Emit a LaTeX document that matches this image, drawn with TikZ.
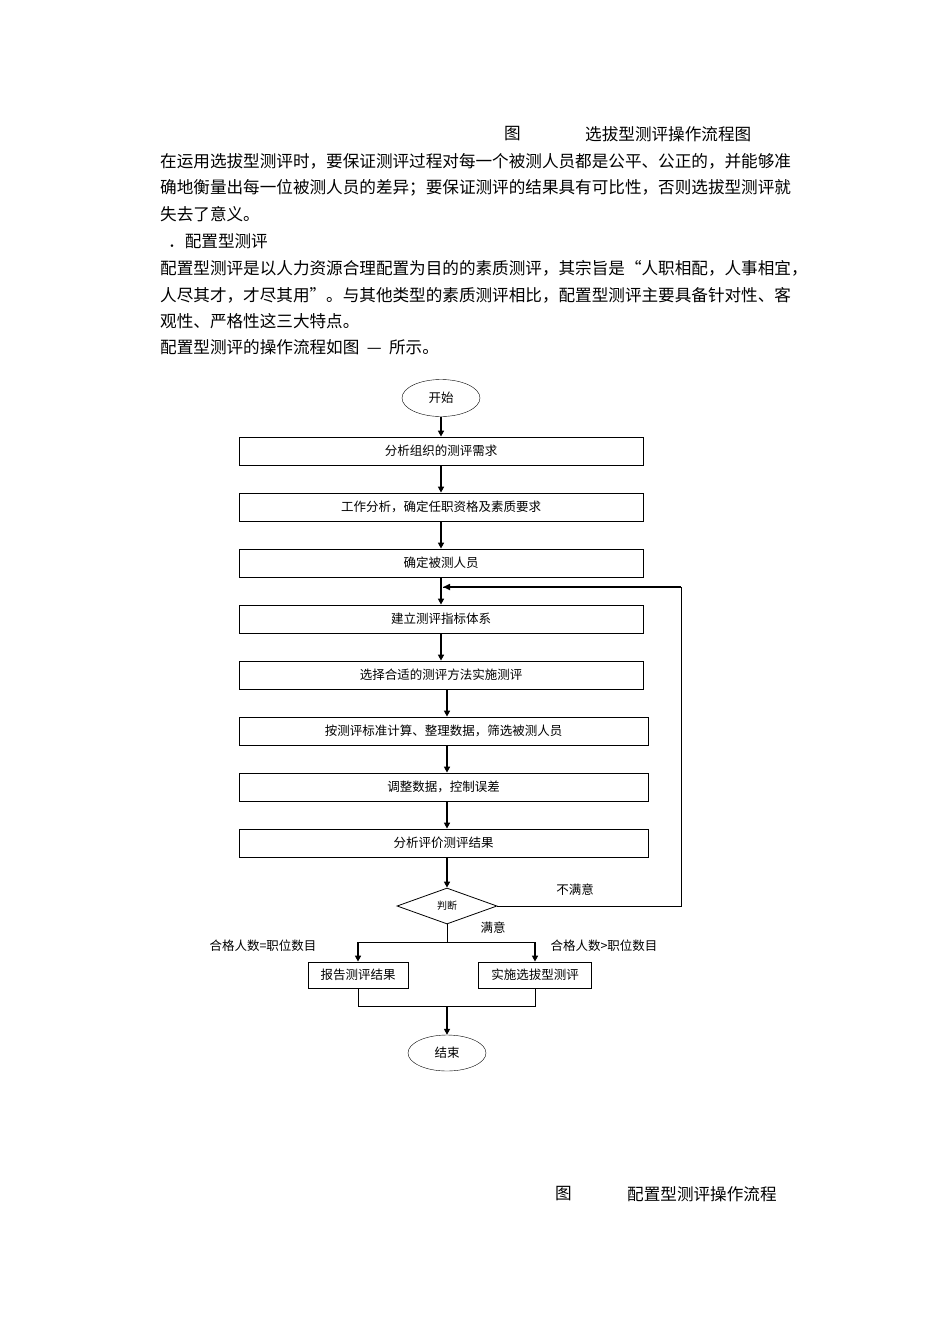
\documentclass[tikz,border=0pt]{standalone}
\usepackage{fontspec}
\setmainfont{Noto Sans CJK SC}
\usetikzlibrary{shapes.geometric,arrows.meta}
\begin{document}
\begin{tikzpicture}[x=1pt,y=-1pt,
  txt/.style={anchor=west,inner sep=0pt,font=\fontsize{16.6}{17}\selectfont},
  box/.style={draw,thick,minimum height=28pt,inner sep=0pt,font=\fontsize{12.5}{13}\selectfont},
  oval/.style={draw,ellipse,minimum width=78pt,minimum height=37pt,inner sep=0pt,font=\fontsize{12.5}{13}\selectfont},
  arr/.style={-{Triangle[length=6pt,width=6pt]},line width=2.2pt},
  ln/.style={line width=0.8pt},
  lab/.style={inner sep=0pt,font=\fontsize{12.5}{13}\selectfont}]
\useasboundingbox[fill=white] (0,0) rectangle (950,1344);
\node[txt] (c1a) at (504,134) {图};
\node[txt] (c1b) at (585,134) {选拔型测评操作流程图};
\node[txt] (t1) at (160,161) {在运用选拔型测评时，要保证测评过程对每一个被测人员都是公平、公正的，并能够准};
\node[txt] (t2) at (160,188) {确地衡量出每一位被测人员的差异；要保证测评的结果具有可比性，否则选拔型测评就};
\node[txt] (t3) at (160,214) {失去了意义。};
\node[txt] (t4) at (168,241) {．配置型测评};
\node[txt] (t5) at (160,268) {配置型测评是以人力资源合理配置为目的的素质测评，其宗旨是“人职相配，人事相宜，};
\node[txt] (t6) at (160,295) {人尽其才，才尽其用”。与其他类型的素质测评相比，配置型测评主要具备针对性、客};
\node[txt] (t7) at (160,321) {观性、严格性这三大特点。};
\node[txt] (t8) at (160,347) {配置型测评的操作流程如图\ \ —\ \ 所示。};
\node[txt] (c2a) at (555,1194) {图};
\node[txt] (c2b) at (627,1194) {配置型测评操作流程};

\node[oval] (s) at (441,398) {开始};
\node[box,minimum width=404pt] (b1) at (441,451) {分析组织的测评需求};
\node[box,minimum width=404pt] (b2) at (441,507) {工作分析，确定任职资格及素质要求};
\node[box,minimum width=404pt] (b3) at (441,563) {确定被测人员};
\node[box,minimum width=404pt] (b4) at (441,619) {建立测评指标体系};
\node[box,minimum width=404pt] (b5) at (441,675) {选择合适的测评方法实施测评};
\node[box,minimum width=409pt] (b6) at (443.5,731) {按测评标准计算、整理数据，筛选被测人员};
\node[box,minimum width=409pt] (b7) at (443.5,787) {调整数据，控制误差};
\node[box,minimum width=409pt] (b8) at (443.5,843) {分析评价测评结果};
\node[draw,thick,diamond,aspect=2.8,minimum width=100pt,minimum height=36pt,inner sep=0pt,font=\fontsize{10}{10}\selectfont] (d) at (447,906) {判断};
\node[box,minimum width=100pt,minimum height=26pt] (l) at (358,975) {报告测评结果};
\node[box,minimum width=113pt,minimum height=26pt] (r) at (535,975) {实施选拔型测评};
\node[oval,minimum height=36pt] (e) at (447,1053) {结束};

\draw[arr] (s) -- (b1);
\draw[arr] (b1) -- (b2);
\draw[arr] (b2) -- (b3);
\draw[arr] (b3) -- (b4);
\draw[arr] (b4) -- (b5);
\draw[arr] (b5.south -| 447,0) -- (b6.north -| 447,0);
\draw[arr] (b6.south -| 447,0) -- (b7.north -| 447,0);
\draw[arr] (b7.south -| 447,0) -- (b8.north -| 447,0);
\draw[arr] (b8.south -| 447,0) -- (d.north);
\coordinate (fb1) at (681,906);
\coordinate (fb2) at (681,587);
\coordinate (fb3) at (443,587);
\draw[ln] (d.east) -- (fb1) -- (fb2) -- (fb3);
\draw[-{Triangle[length=7pt,width=6pt]},line width=1.6pt] (fb2) -- (fb3);
\coordinate (j) at (447,942);
\draw[ln] (d.south) -- (j);
\draw[ln] (j -| l.north) -- (j -| r.north);
\draw[arr] (j -| l.north) -- (l.north);
\draw[arr] (j -| r.north) -- (r.north);
\coordinate (k) at (447,1006);
\draw[ln] (l.south) -- (l.south |- k) -- (r.south |- k) -- (r.south);
\draw[arr] (k) -- (e.north);
\node[lab] (ns) at (575,890) {不满意};
\node[lab] (ys) at (493,928) {满意};
\node[lab] (eq) at (263,946) {合格人数=职位数目};
\node[lab] (gt) at (604,946) {合格人数>职位数目};
\end{tikzpicture}
\end{document}
